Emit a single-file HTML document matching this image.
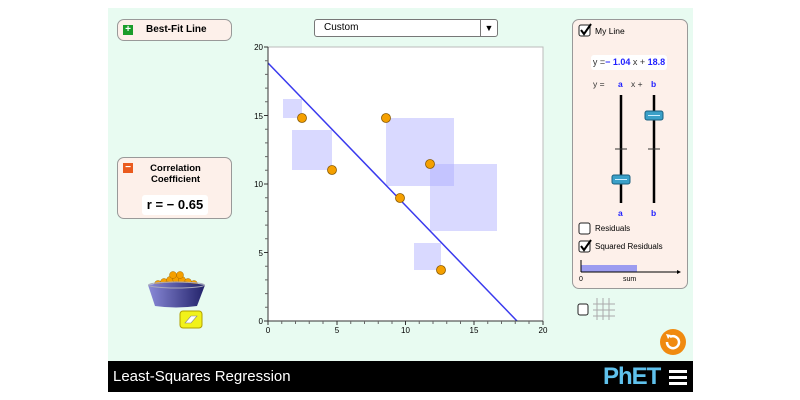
<!DOCTYPE html>
<html><head><style>
body{margin:0;width:800px;height:400px;background:#fff;font-family:"Liberation Sans",sans-serif;position:relative;overflow:hidden}
.abs{position:absolute}
.panel{position:absolute;background:#fdf0ea;border:1px solid #999;border-radius:7px;box-sizing:border-box}
</style></head><body>
<div class="abs" style="left:108px;top:8px;width:585px;height:353px;background:#e8fbf1"></div>
<div class="abs" style="left:108px;top:361px;width:585px;height:31px;background:#000"></div>
<div class="abs" style="left:113px;top:368px;color:#fff;font-size:15px">Least-Squares Regression</div>
<div class="abs" style="left:603px;top:363px;color:#5fc1ec;font-size:24px;font-weight:bold;letter-spacing:-1px">PhET</div>
<div class="abs" style="left:669px;top:370px;width:18px;height:3px;background:#fff;box-shadow:0 6px 0 #fff,0 12px 0 #fff"></div>

<div class="panel" style="left:117px;top:19px;width:115px;height:22px">
<div class="abs" style="left:5px;top:5px;width:10px;height:10px;background:#1a9d2a;color:#fff;font-size:10px;line-height:10px;text-align:center;font-weight:bold">+</div>
<div class="abs" style="left:28px;top:4px;font-size:10px;font-weight:bold">Best-Fit Line</div></div>

<div class="panel" style="left:117px;top:157px;width:115px;height:62px">
<div class="abs" style="left:5px;top:5px;width:10px;height:10px;background:#ea5a1d;color:#fff;font-size:10px;line-height:9px;text-align:center;font-weight:bold">−</div>
<div class="abs" style="left:0;width:115px;top:5px;font-size:9.5px;font-weight:bold;text-align:center;line-height:11px">Correlation<br>Coefficient</div>
<div class="abs" style="left:24px;top:37px;width:66px;height:20px;background:#fff;border-radius:3px;font-size:13px;font-weight:bold;text-align:center;line-height:20px">r = − 0.65</div></div>

<div class="abs" style="left:314px;top:19px;width:184px;height:18px;background:#fff;border:1px solid #777;border-radius:3px;box-sizing:border-box;font-size:10px;line-height:16px;padding-left:9px">Custom<span style="position:absolute;right:0;top:0;width:16px;height:16px;border-left:1px solid #777;text-align:center;font-size:9px">▼</span></div>

<svg class="abs" style="left:0;top:0" width="800" height="400">
<rect x="268" y="47" width="275" height="274" fill="#fff" stroke="#bbb"/>
<g fill="#aaaaff" fill-opacity="0.45">
<rect x="283" y="99" width="19" height="19"/><rect x="292" y="130" width="40" height="40"/>
<rect x="386" y="118" width="68" height="68"/><rect x="430" y="164" width="67" height="67"/>
<rect x="414" y="243" width="27" height="27"/></g>
<line x1="268" y1="63" x2="517" y2="321" stroke="#3a3aee" stroke-width="1.5"/>
<g stroke="#333" stroke-width="1">
<line x1="268" y1="47" x2="268" y2="322"/><line x1="264" y1="321" x2="543" y2="321"/>
<path d="M264 47h4M264 115.5h4M264 184h4M264 252.5h4M264 321h4M543 321v4M474 321v4M405.5 321v4M337 321v4M268 321v4"/>
<path d="M265 60.7h3M265 74.4h3M265 88.1h3M265 101.8h3M265 129.2h3M265 142.9h3M265 156.6h3M265 170.3h3M265 197.7h3M265 211.4h3M265 225.1h3M265 238.8h3M265 266.2h3M265 279.9h3M265 293.6h3M265 307.3h3" stroke="#666"/>
<path d="M281.75 321v3M295.5 321v3M309.25 321v3M323 321v3M350.75 321v3M364.5 321v3M378.25 321v3M392 321v3M419.25 321v3M433 321v3M446.75 321v3M460.5 321v3M487.75 321v3M501.5 321v3M515.25 321v3M529 321v3" stroke="#666"/>
</g>
<g font-size="8" fill="#000" font-family="Liberation Sans">
<text x="263" y="50" text-anchor="end">20</text><text x="263" y="119" text-anchor="end">15</text><text x="263" y="187" text-anchor="end">10</text><text x="263" y="256" text-anchor="end">5</text><text x="263" y="324" text-anchor="end">0</text>
<text x="268" y="333" text-anchor="middle">0</text><text x="337" y="333" text-anchor="middle">5</text><text x="405.5" y="333" text-anchor="middle">10</text><text x="474" y="333" text-anchor="middle">15</text><text x="543" y="333" text-anchor="middle">20</text></g>
<g fill="#f5a000" stroke="#8a5a00" stroke-width="0.8">
<circle cx="302" cy="118" r="4.5"/><circle cx="332" cy="170" r="4.5"/><circle cx="386" cy="118" r="4.5"/><circle cx="400" cy="198" r="4.5"/><circle cx="430" cy="164" r="4.5"/><circle cx="441" cy="270" r="4.5"/></g>
<defs><linearGradient id="bk" x1="0" x2="1"><stop offset="0" stop-color="#8a8ad8"/><stop offset="1" stop-color="#22226a"/></linearGradient></defs>
<g fill="#f5a000" stroke="#a66a00" stroke-width="0.5">
<circle cx="158" cy="284" r="3.5"/><circle cx="164" cy="282" r="3.5"/><circle cx="170" cy="280" r="3.5"/><circle cx="176" cy="279" r="3.5"/><circle cx="182" cy="280" r="3.5"/><circle cx="188" cy="282" r="3.5"/><circle cx="194" cy="284" r="3.5"/><circle cx="167" cy="285" r="3.5"/><circle cx="176" cy="285" r="3.5"/><circle cx="185" cy="285" r="3.5"/><circle cx="173" cy="275" r="3.5"/><circle cx="180" cy="275" r="3.5"/></g>
<path d="M148 285 Q176 280 205 285 L197 306 Q176 309 155 306 Z" fill="url(#bk)"/>
<ellipse cx="176.5" cy="285" rx="28" ry="3" fill="none" stroke="#aab" stroke-width="1"/>
<rect x="180" y="311" width="22" height="17" rx="3" fill="#f2f21a" stroke="#b0a000"/>
<path d="M185 323l6-7h6l-6 7z" fill="#fff" stroke="#888" stroke-width="0.6"/>
<circle cx="673" cy="342" r="13" fill="#f08a10"/><path d="M667 342a6 6 0 1 0 3-5" fill="none" stroke="#fff" stroke-width="2.5"/><path d="M666 334l5 1-3 4z" fill="#fff"/>
<rect x="578" y="304" width="10" height="11" rx="2" fill="#fff" stroke="#222"/>
<path d="M597 298v22M603 298v22M609 298v22M593 304h22M593 310h22M593 316h22" stroke="#aaa" stroke-width="1"/>
</svg>

<div class="panel" style="left:572px;top:19px;width:116px;height:270px">
<svg class="abs" style="left:0;top:0" width="116" height="270">
<rect x="6" y="5" width="11" height="11" rx="2" fill="#fff" stroke="#222"/><path d="M8 10l3 4 7-10" stroke="#000" stroke-width="2" fill="none"/>
<line x1="48" y1="75" x2="48" y2="183" stroke="#000" stroke-width="2.5"/><line x1="81" y1="75" x2="81" y2="183" stroke="#000" stroke-width="2.5"/>
<line x1="42" y1="129" x2="54" y2="129" stroke="#333"/><line x1="75" y1="129" x2="87" y2="129" stroke="#333"/>
<rect x="39" y="155" width="18" height="9" rx="2" fill="#3aa0c8" stroke="#1a6080"/><line x1="42" y1="159.5" x2="54" y2="159.5" stroke="#cef"/>
<rect x="72" y="91" width="18" height="9" rx="2" fill="#3aa0c8" stroke="#1a6080"/><line x1="75" y1="95.5" x2="87" y2="95.5" stroke="#cef"/>
<rect x="6" y="203" width="11" height="11" rx="2" fill="#fff" stroke="#222"/>
<rect x="6" y="221" width="11" height="11" rx="2" fill="#fff" stroke="#222"/><path d="M8 226l3 4 7-10" stroke="#000" stroke-width="2" fill="none"/>
<rect x="8" y="245" width="56" height="7" fill="#9c9cf0"/>
<line x1="8" y1="240" x2="8" y2="252" stroke="#000"/><line x1="8" y1="252" x2="106" y2="252" stroke="#000"/><path d="M108 252l-4-2v4z"/>
</svg>
<div class="abs" style="left:22px;top:6px;font-size:8.5px">My Line</div>
<div class="abs" style="left:18px;top:35px;width:76px;height:15px;background:#fff;border-radius:3px;font-size:9px;line-height:15px;text-align:center;font-weight:bold;color:#22f"><span style="color:#333;font-weight:normal">y =</span>− 1.04 <span style="color:#333;font-weight:normal">x +</span> 18.8</div>
<div class="abs" style="left:20px;top:59px;font-size:8.5px;color:#333">y =</div>
<div class="abs" style="left:45px;top:59px;font-size:8.5px;color:#22f;font-weight:bold">a</div>
<div class="abs" style="left:58px;top:59px;font-size:8.5px;color:#333">x +</div>
<div class="abs" style="left:78px;top:59px;font-size:8.5px;color:#22f;font-weight:bold">b</div>
<div class="abs" style="left:45px;top:188px;font-size:8.5px;color:#22f;font-weight:bold">a</div>
<div class="abs" style="left:78px;top:188px;font-size:8.5px;color:#22f;font-weight:bold">b</div>
<div class="abs" style="left:22px;top:204px;font-size:8px">Residuals</div>
<div class="abs" style="left:22px;top:222px;font-size:8px">Squared Residuals</div>
<div class="abs" style="left:6px;top:256px;font-size:7px">0</div>
<div class="abs" style="left:50px;top:256px;font-size:7px">sum</div>
</div>
</body></html>
